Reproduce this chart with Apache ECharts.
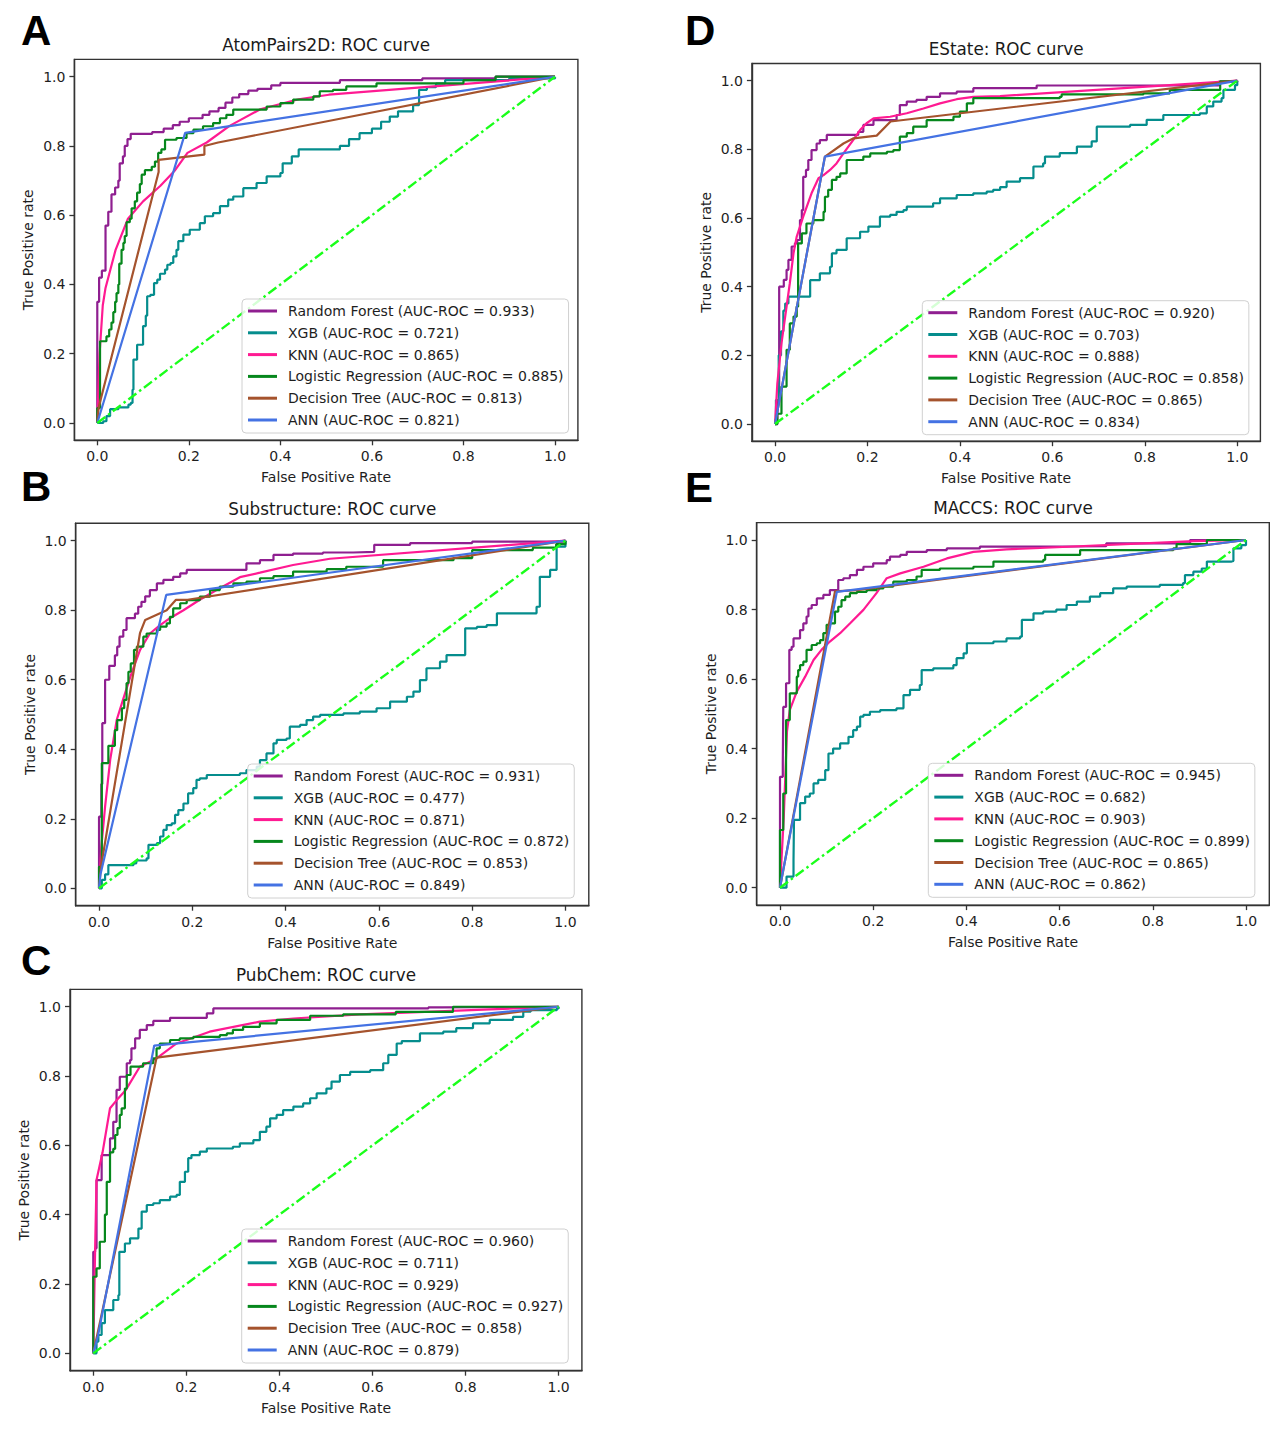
<!DOCTYPE html>
<html><head><meta charset="utf-8">
<script src="https://cdn.jsdelivr.net/npm/echarts@6/dist/echarts.min.js"></script>
<style>html,body{margin:0;padding:0;background:#fff}#c{width:1280px;height:1430px}</style>
</head><body><div id="c"></div>
<script>
// ---------- DATA ----------
const models = ['Random Forest', 'XGB', 'KNN', 'Logistic Regression', 'Decision Tree', 'ANN'];
const panelLetters = ['A', 'B', 'C', 'D', 'E'];
const panelTitles = ['AtomPairs2D: ROC curve', 'Substructure: ROC curve', 'PubChem: ROC curve', 'EState: ROC curve', 'MACCS: ROC curve'];
const xAxisTitle = 'False Positive Rate';
const yAxisTitle = 'True Positive rate';
const tickValues = [0, 0.2, 0.4, 0.6, 0.8, 1.0];
const diagonal = [[0, 0], [1, 1]];

const aucA = [0.933, 0.721, 0.865, 0.885, 0.813, 0.821];
const aucB = [0.931, 0.477, 0.871, 0.872, 0.853, 0.849];
const aucC = [0.960, 0.711, 0.929, 0.927, 0.858, 0.879];
const aucD = [0.920, 0.703, 0.888, 0.858, 0.865, 0.834];
const aucE = [0.945, 0.682, 0.903, 0.899, 0.865, 0.862];

// Panel A: AtomPairs2D
const A_RF = [[0,0],[0,0.35],[0.004,0.42],[0.01,0.44],[0.018,0.57],[0.024,0.61],[0.031,0.66],[0.039,0.68],[0.046,0.70],[0.049,0.75],[0.056,0.77],[0.06,0.80],[0.066,0.82],[0.073,0.835],[0.12,0.84],[0.145,0.85],[0.165,0.86],[0.18,0.87],[0.2,0.88],[0.23,0.89],[0.245,0.90],[0.265,0.91],[0.28,0.925],[0.295,0.94],[0.31,0.95],[0.33,0.96],[0.35,0.965],[0.38,0.975],[0.40,0.982],[0.53,0.99],[0.71,0.995],[0.87,1.0],[1,1]];
const A_XGB = [[0,0],[0.013,0.005],[0.02,0.02],[0.028,0.04],[0.046,0.045],[0.068,0.053],[0.073,0.058],[0.077,0.096],[0.079,0.183],[0.087,0.183],[0.087,0.226],[0.097,0.226],[0.10,0.28],[0.106,0.31],[0.109,0.366],[0.116,0.37],[0.124,0.404],[0.131,0.414],[0.137,0.431],[0.148,0.443],[0.153,0.457],[0.16,0.462],[0.166,0.481],[0.173,0.50],[0.177,0.525],[0.188,0.544],[0.202,0.558],[0.224,0.577],[0.235,0.597],[0.253,0.606],[0.268,0.626],[0.286,0.645],[0.297,0.654],[0.319,0.678],[0.348,0.693],[0.37,0.712],[0.40,0.722],[0.405,0.75],[0.425,0.77],[0.44,0.79],[0.508,0.79],[0.53,0.80],[0.55,0.82],[0.573,0.837],[0.6,0.85],[0.62,0.87],[0.639,0.885],[0.657,0.90],[0.69,0.918],[0.703,0.92],[0.703,0.962],[0.72,0.97],[0.74,0.98],[0.76,0.99],[0.9,0.995],[1,1]];
const A_KNN = [[0,0],[0.005,0.2],[0.012,0.34],[0.018,0.39],[0.04,0.5],[0.067,0.59],[0.1,0.64],[0.138,0.685],[0.17,0.73],[0.197,0.78],[0.239,0.81],[0.289,0.858],[0.356,0.906],[0.44,0.935],[0.506,0.948],[1,1]];
const A_LR = [[0,0],[0,0.043],[0.006,0.236],[0.02,0.25],[0.026,0.27],[0.031,0.29],[0.035,0.32],[0.039,0.35],[0.042,0.375],[0.046,0.40],[0.048,0.46],[0.053,0.50],[0.057,0.52],[0.06,0.54],[0.064,0.58],[0.071,0.59],[0.075,0.62],[0.082,0.64],[0.087,0.665],[0.093,0.69],[0.097,0.717],[0.104,0.73],[0.119,0.74],[0.126,0.755],[0.133,0.78],[0.14,0.79],[0.148,0.818],[0.173,0.823],[0.195,0.837],[0.21,0.847],[0.231,0.857],[0.253,0.866],[0.268,0.88],[0.282,0.89],[0.297,0.905],[0.355,0.905],[0.37,0.914],[0.40,0.924],[0.428,0.934],[0.472,0.943],[0.486,0.958],[0.515,0.962],[0.544,0.972],[0.61,0.981],[0.80,0.99],[0.87,1.0],[1,1]];
const A_DT = [[0,0],[0.003,0.045],[0.134,0.725],[0.134,0.76],[0.234,0.775],[0.234,0.80],[0.264,0.81],[1,1]];
const A_ANN = [[0,0],[0.192,0.838],[1,1]];

// Panel B: Substructure
const B_RF = [[0,0],[0,0.206],[0.005,0.30],[0.007,0.475],[0.013,0.60],[0.022,0.64],[0.034,0.67],[0.039,0.695],[0.044,0.724],[0.052,0.743],[0.059,0.777],[0.077,0.79],[0.084,0.81],[0.091,0.824],[0.099,0.84],[0.109,0.858],[0.124,0.877],[0.138,0.887],[0.159,0.896],[0.174,0.906],[0.188,0.916],[0.309,0.916],[0.316,0.935],[0.345,0.944],[0.374,0.959],[0.416,0.963],[0.48,0.966],[0.545,0.968],[0.59,0.988],[0.667,0.993],[0.8,0.997],[1,1]];
const B_XGB = [[0,0],[0.006,0.024],[0.013,0.04],[0.02,0.067],[0.074,0.072],[0.08,0.08],[0.102,0.086],[0.106,0.125],[0.124,0.13],[0.131,0.149],[0.138,0.168],[0.145,0.182],[0.156,0.187],[0.163,0.211],[0.17,0.225],[0.181,0.244],[0.191,0.273],[0.202,0.288],[0.209,0.312],[0.216,0.316],[0.231,0.326],[0.302,0.331],[0.316,0.34],[0.338,0.35],[0.345,0.369],[0.359,0.388],[0.374,0.417],[0.381,0.427],[0.402,0.431],[0.409,0.465],[0.431,0.47],[0.445,0.484],[0.459,0.494],[0.474,0.499],[0.509,0.499],[0.524,0.503],[0.559,0.508],[0.595,0.518],[0.624,0.537],[0.66,0.551],[0.674,0.566],[0.688,0.599],[0.702,0.633],[0.731,0.652],[0.745,0.671],[0.785,0.671],[0.785,0.748],[0.81,0.752],[0.831,0.757],[0.853,0.791],[0.924,0.791],[0.938,0.81],[0.945,0.896],[0.967,0.916],[0.981,0.964],[0.981,0.983],[1,0.988],[1,1]];
const B_KNN = [[0,0],[0.005,0.12],[0.013,0.235],[0.024,0.37],[0.038,0.485],[0.052,0.545],[0.07,0.62],[0.088,0.686],[0.109,0.733],[0.131,0.757],[0.152,0.777],[0.181,0.80],[0.216,0.83],[0.252,0.858],[0.302,0.895],[0.345,0.908],[0.416,0.93],[0.495,0.948],[1,1]];
const B_LR = [[0,0],[0,0.062],[0.006,0.36],[0.02,0.41],[0.034,0.455],[0.039,0.484],[0.049,0.518],[0.054,0.542],[0.059,0.59],[0.063,0.623],[0.068,0.647],[0.075,0.686],[0.081,0.695],[0.095,0.724],[0.102,0.733],[0.124,0.743],[0.131,0.753],[0.145,0.762],[0.152,0.781],[0.159,0.805],[0.174,0.82],[0.188,0.829],[0.216,0.839],[0.238,0.858],[0.259,0.868],[0.288,0.877],[0.316,0.882],[0.345,0.892],[0.374,0.898],[0.416,0.911],[0.488,0.918],[0.53,0.925],[0.609,0.944],[0.76,0.95],[0.80,0.973],[0.93,0.98],[0.98,0.99],[1,1]];
const B_DT = [[0,0],[0.004,0.06],[0.088,0.735],[0.099,0.772],[0.145,0.80],[0.165,0.83],[0.19,0.83],[1,1]];
const B_ANN = [[0,0],[0.003,0.04],[0.144,0.844],[1,1]];

// Panel C: PubChem
const C_RF = [[0,0],[0,0.293],[0.004,0.303],[0.007,0.50],[0.018,0.572],[0.036,0.62],[0.043,0.668],[0.05,0.76],[0.057,0.798],[0.072,0.837],[0.079,0.846],[0.082,0.88],[0.09,0.909],[0.10,0.933],[0.115,0.947],[0.129,0.959],[0.165,0.968],[0.229,0.968],[0.244,0.981],[0.258,0.995],[0.72,0.998],[0.75,1.0],[1,1]];
const C_XGB = [[0,0],[0.007,0.034],[0.011,0.053],[0.018,0.087],[0.025,0.125],[0.043,0.154],[0.054,0.168],[0.056,0.293],[0.068,0.317],[0.079,0.332],[0.097,0.36],[0.104,0.409],[0.115,0.428],[0.129,0.433],[0.143,0.442],[0.165,0.452],[0.179,0.457],[0.186,0.495],[0.197,0.524],[0.204,0.563],[0.211,0.572],[0.229,0.582],[0.244,0.591],[0.30,0.596],[0.315,0.606],[0.344,0.615],[0.358,0.639],[0.372,0.654],[0.38,0.678],[0.394,0.688],[0.408,0.702],[0.43,0.712],[0.451,0.721],[0.466,0.736],[0.48,0.75],[0.501,0.764],[0.512,0.784],[0.53,0.803],[0.552,0.812],[0.595,0.817],[0.623,0.837],[0.634,0.861],[0.652,0.894],[0.663,0.901],[0.702,0.909],[0.702,0.923],[0.752,0.928],[0.78,0.938],[0.816,0.952],[0.852,0.962],[0.902,0.971],[0.924,0.986],[0.94,0.99],[0.996,0.995],[1,1]];
const C_KNN = [[0,0],[0.004,0.3],[0.007,0.5],[0.02,0.58],[0.036,0.707],[0.05,0.73],[0.07,0.76],[0.1,0.827],[0.136,0.851],[0.179,0.894],[0.25,0.928],[0.358,0.957],[0.43,0.966],[0.573,0.978],[1,1]];
const C_LR = [[0,0],[0,0.221],[0.007,0.245],[0.014,0.322],[0.025,0.40],[0.029,0.495],[0.036,0.58],[0.043,0.59],[0.047,0.63],[0.052,0.65],[0.057,0.688],[0.061,0.707],[0.068,0.764],[0.072,0.803],[0.08,0.827],[0.107,0.837],[0.129,0.851],[0.136,0.88],[0.143,0.894],[0.165,0.904],[0.186,0.909],[0.215,0.913],[0.272,0.918],[0.287,0.923],[0.30,0.933],[0.322,0.942],[0.358,0.952],[0.394,0.962],[0.466,0.974],[0.537,0.978],[0.65,0.985],[0.773,1.0],[1,1]];
const C_DT = [[0,0],[0.136,0.853],[1,1]];
const C_ANN = [[0,0],[0.01,0.05],[0.131,0.888],[1,1]];

// Panel D: EState
const D_RF = [[0,0],[0.005,0.07],[0.009,0.40],[0.019,0.42],[0.025,0.449],[0.029,0.478],[0.036,0.517],[0.043,0.526],[0.048,0.536],[0.054,0.594],[0.058,0.623],[0.061,0.72],[0.067,0.74],[0.072,0.769],[0.079,0.798],[0.09,0.817],[0.097,0.827],[0.112,0.842],[0.18,0.851],[0.191,0.871],[0.213,0.885],[0.263,0.90],[0.27,0.929],[0.285,0.939],[0.306,0.944],[0.328,0.953],[0.357,0.963],[0.393,0.968],[0.429,0.978],[0.566,0.986],[0.96,0.997],[1,1]];
const D_XGB = [[0,0],[0.002,0.07],[0.008,0.2],[0.013,0.27],[0.018,0.33],[0.022,0.351],[0.029,0.371],[0.076,0.38],[0.076,0.419],[0.097,0.439],[0.119,0.458],[0.123,0.497],[0.133,0.507],[0.155,0.541],[0.184,0.56],[0.202,0.575],[0.227,0.604],[0.249,0.609],[0.263,0.618],[0.278,0.623],[0.285,0.633],[0.328,0.633],[0.342,0.643],[0.357,0.657],[0.393,0.667],[0.429,0.672],[0.458,0.677],[0.472,0.682],[0.487,0.69],[0.501,0.706],[0.53,0.716],[0.559,0.75],[0.58,0.759],[0.584,0.779],[0.616,0.789],[0.653,0.808],[0.685,0.823],[0.696,0.866],[0.768,0.871],[0.804,0.886],[0.84,0.90],[0.919,0.905],[0.934,0.925],[0.948,0.939],[0.966,0.949],[0.97,0.973],[0.995,0.987],[1,1]];
const D_KNN = [[0,0],[0.005,0.118],[0.014,0.235],[0.022,0.313],[0.032,0.41],[0.04,0.497],[0.047,0.546],[0.061,0.604],[0.079,0.672],[0.094,0.716],[0.105,0.725],[0.119,0.74],[0.133,0.759],[0.148,0.788],[0.169,0.827],[0.184,0.856],[0.198,0.876],[0.213,0.89],[0.249,0.895],[0.285,0.905],[0.321,0.919],[0.357,0.934],[0.393,0.946],[0.429,0.953],[0.487,0.955],[0.97,0.997],[1,1]];
const D_LR = [[0,0],[0.005,0.03],[0.014,0.109],[0.025,0.216],[0.032,0.293],[0.04,0.313],[0.047,0.342],[0.05,0.526],[0.058,0.555],[0.068,0.584],[0.083,0.594],[0.105,0.618],[0.108,0.662],[0.115,0.682],[0.123,0.711],[0.133,0.72],[0.141,0.73],[0.155,0.769],[0.177,0.769],[0.191,0.779],[0.206,0.788],[0.242,0.793],[0.256,0.798],[0.27,0.837],[0.285,0.847],[0.299,0.866],[0.328,0.885],[0.357,0.885],[0.386,0.895],[0.40,0.91],[0.415,0.934],[0.429,0.949],[0.616,0.953],[0.62,0.96],[0.797,0.963],[0.854,0.973],[0.963,0.978],[0.963,0.998],[1,1]];
const D_DT = [[0,0],[0.108,0.779],[0.148,0.817],[0.17,0.832],[0.22,0.84],[0.25,0.881],[1,1]];
const D_ANN = [[0,0],[0.108,0.779],[1,1]];

// Panel E: MACCS
const E_RF = [[0,0],[0,0.319],[0.006,0.358],[0.007,0.52],[0.013,0.588],[0.02,0.684],[0.025,0.693],[0.029,0.717],[0.043,0.741],[0.05,0.76],[0.057,0.78],[0.061,0.803],[0.068,0.813],[0.079,0.832],[0.093,0.842],[0.107,0.856],[0.125,0.885],[0.136,0.89],[0.15,0.899],[0.165,0.914],[0.179,0.923],[0.20,0.933],[0.229,0.942],[0.236,0.952],[0.258,0.957],[0.272,0.966],[0.315,0.971],[0.358,0.976],[0.429,0.981],[0.56,0.982],[0.7,0.99],[0.88,1.0],[1,1]];
const E_XGB = [[0,0],[0.014,0.032],[0.029,0.08],[0.03,0.195],[0.043,0.243],[0.054,0.262],[0.064,0.271],[0.072,0.30],[0.082,0.31],[0.097,0.338],[0.104,0.386],[0.114,0.40],[0.129,0.415],[0.147,0.434],[0.157,0.453],[0.165,0.463],[0.172,0.492],[0.179,0.497],[0.193,0.506],[0.215,0.511],[0.25,0.516],[0.265,0.554],[0.279,0.569],[0.30,0.583],[0.304,0.626],[0.329,0.631],[0.372,0.64],[0.379,0.66],[0.394,0.674],[0.401,0.703],[0.458,0.708],[0.486,0.717],[0.515,0.722],[0.519,0.77],[0.544,0.789],[0.565,0.794],[0.593,0.80],[0.615,0.813],[0.637,0.823],[0.665,0.837],[0.687,0.847],[0.715,0.861],[0.744,0.866],[0.815,0.871],[0.865,0.876],[0.869,0.899],[0.887,0.909],[0.905,0.918],[0.916,0.938],[0.969,0.94],[0.973,0.976],[0.99,0.985],[1,1]];
const E_KNN = [[0,0],[0.008,0.2],[0.015,0.45],[0.021,0.511],[0.036,0.564],[0.054,0.607],[0.072,0.655],[0.089,0.684],[0.107,0.708],[0.129,0.732],[0.15,0.76],[0.179,0.799],[0.207,0.847],[0.229,0.89],[0.258,0.904],[0.308,0.923],[0.358,0.947],[0.415,0.966],[0.486,0.973],[0.558,0.977],[0.887,0.997],[1,1]];
const E_LR = [[0,0],[0,0.166],[0.007,0.271],[0.013,0.482],[0.021,0.559],[0.036,0.607],[0.039,0.626],[0.043,0.64],[0.05,0.65],[0.057,0.684],[0.068,0.698],[0.079,0.703],[0.086,0.712],[0.093,0.732],[0.10,0.756],[0.107,0.76],[0.118,0.794],[0.125,0.808],[0.132,0.827],[0.14,0.837],[0.15,0.847],[0.165,0.851],[0.186,0.856],[0.207,0.861],[0.222,0.866],[0.243,0.88],[0.272,0.885],[0.293,0.895],[0.304,0.914],[0.343,0.918],[0.415,0.923],[0.458,0.938],[0.565,0.943],[0.569,0.957],[0.644,0.971],[0.844,0.976],[0.851,0.988],[0.916,1.0],[1,1]];
const E_DT = [[0,0],[0.118,0.852],[0.165,0.856],[1,1]];
const E_ANN = [[0,0],[0.004,0.03],[0.122,0.851],[1,1]];

// ---------- ASSEMBLY ----------
const panelCurves = [
  [A_RF, A_XGB, A_KNN, A_LR, A_DT, A_ANN],
  [B_RF, B_XGB, B_KNN, B_LR, B_DT, B_ANN],
  [C_RF, C_XGB, C_KNN, C_LR, C_DT, C_ANN],
  [D_RF, D_XGB, D_KNN, D_LR, D_DT, D_ANN],
  [E_RF, E_XGB, E_KNN, E_LR, E_DT, E_ANN]
];
const panelAuc = [aucA, aucB, aucC, aucD, aucE];

// layout & style (not data)
const FONT = 'DejaVu Sans';
const modelColors = ['#8f1f90', '#058d8d', '#ff1a92', '#06871c', '#a5532d', '#4472e3'];
const stepped = [true, true, false, true, false, false];
const gridBoxes = [
  {left: 74.4, top: 59.4, width: 503.5, height: 380.9},
  {left: 75.7, top: 523.3, width: 513.1, height: 382.4},
  {left: 70.0, top: 989.4, width: 511.9, height: 381.3},
  {left: 751.9, top: 63.5, width: 508.5, height: 377.7},
  {left: 756.7, top: 522.6, width: 512.6, height: 382.5}
];
const legendBoxes = [[242, 299], [247.7, 764], [241.7, 1229], [922.3, 300.7], [928.3, 763.3]];
const letterPos = [[21, 30], [21, 486], [21, 960], [685, 30], [685, 487]];

const grids = [], xAxes = [], yAxes = [], series = [], legends = [], graphics = [];
const axisColor = '#333333';
const fmt = v => Number(v).toFixed(1);

panelCurves.forEach((curves, p) => {
  const g = gridBoxes[p];
  grids.push(Object.assign({show: true, borderColor: axisColor, borderWidth: 1.4, backgroundColor: '#fff', containLabel: false, outerBoundsMode: 'none'}, g));
  xAxes.push({
    type: 'value', gridIndex: p, min: -0.05, max: 1.05,
    name: xAxisTitle, nameLocation: 'middle', nameGap: 30,
    nameTextStyle: {fontFamily: FONT, fontSize: 14, color: '#1e1e1e'},
    axisLine: {show: true, onZero: false, lineStyle: {color: axisColor, width: 1.4}},
    axisTick: {show: true, inside: false, length: 5, customValues: tickValues, lineStyle: {color: axisColor, width: 1.3}},
    axisLabel: {customValues: tickValues, formatter: fmt, fontFamily: FONT, fontSize: 14, color: '#1e1e1e', margin: 9},
    splitLine: {show: false}
  });
  yAxes.push({
    type: 'value', gridIndex: p, min: -0.05, max: 1.05,
    name: yAxisTitle, nameLocation: 'middle', nameGap: 39, nameRotate: 90,
    nameTextStyle: {fontFamily: FONT, fontSize: 14, color: '#1e1e1e'},
    axisLine: {show: true, onZero: false, lineStyle: {color: axisColor, width: 1.4}},
    axisTick: {show: true, inside: false, length: 5, customValues: tickValues, lineStyle: {color: axisColor, width: 1.3}},
    axisLabel: {customValues: tickValues, formatter: fmt, fontFamily: FONT, fontSize: 14, color: '#1e1e1e', margin: 9},
    splitLine: {show: false}
  });
  const names = [];
  curves.forEach((data, m) => {
    const name = models[m] + ' (AUC-ROC = ' + panelAuc[p][m].toFixed(3) + ')';
    names.push(name);
    series.push({
      type: 'line', name: name, xAxisIndex: p, yAxisIndex: p, data: data,
      step: stepped[m] ? 'end' : false,
      showSymbol: false, symbol: 'none', color: modelColors[m],
      lineStyle: {width: 2.2, color: modelColors[m]},
      silent: true, animation: false, emphasis: {disabled: true}
    });
  });
  series.push({
    type: 'line', name: 'chance_' + p, xAxisIndex: p, yAxisIndex: p, data: diagonal,
    showSymbol: false, symbol: 'none', color: '#1aff1a',
    lineStyle: {width: 2.4, color: '#1aff1a', type: [10, 3.5, 2.5, 3.5]},
    silent: true, animation: false, emphasis: {disabled: true}
  });
  legends.push({
    data: names, orient: 'vertical', left: legendBoxes[p][0], top: legendBoxes[p][1],
    padding: [4, 5, 5, 6], itemGap: 5.8, itemWidth: 29, itemHeight: 3, icon: 'rect',
    selectedMode: false, backgroundColor: 'rgba(255,255,255,0.82)',
    borderColor: '#d0d0d0', borderWidth: 1, borderRadius: 4,
    textStyle: {fontFamily: FONT, fontSize: 14, color: '#1e1e1e', lineHeight: 16, padding: [0, 0, 0, 6]}
  });
  graphics.push({
    type: 'text', x: g.left + g.width / 2, y: g.top - 14.5, silent: true,
    style: {text: panelTitles[p], font: '16.8px "' + FONT + '"', fill: '#1a1a1a', align: 'center', verticalAlign: 'middle', textAlign: 'center', textVerticalAlign: 'middle'}
  });
  graphics.push({
    type: 'text', x: letterPos[p][0], y: letterPos[p][1], silent: true,
    style: {text: panelLetters[p], font: 'bold 42px "Liberation Sans"', fill: '#000', align: 'left', verticalAlign: 'middle', textAlign: 'left', textVerticalAlign: 'middle'}
  });
});

const chart = echarts.init(document.getElementById('c'), null, {renderer: 'svg', width: 1280, height: 1430});
chart.setOption({
  animation: false,
  backgroundColor: '#ffffff',
  grid: grids, xAxis: xAxes, yAxis: yAxes, series: series, legend: legends,
  graphic: {elements: graphics}
});
</script></body></html>
